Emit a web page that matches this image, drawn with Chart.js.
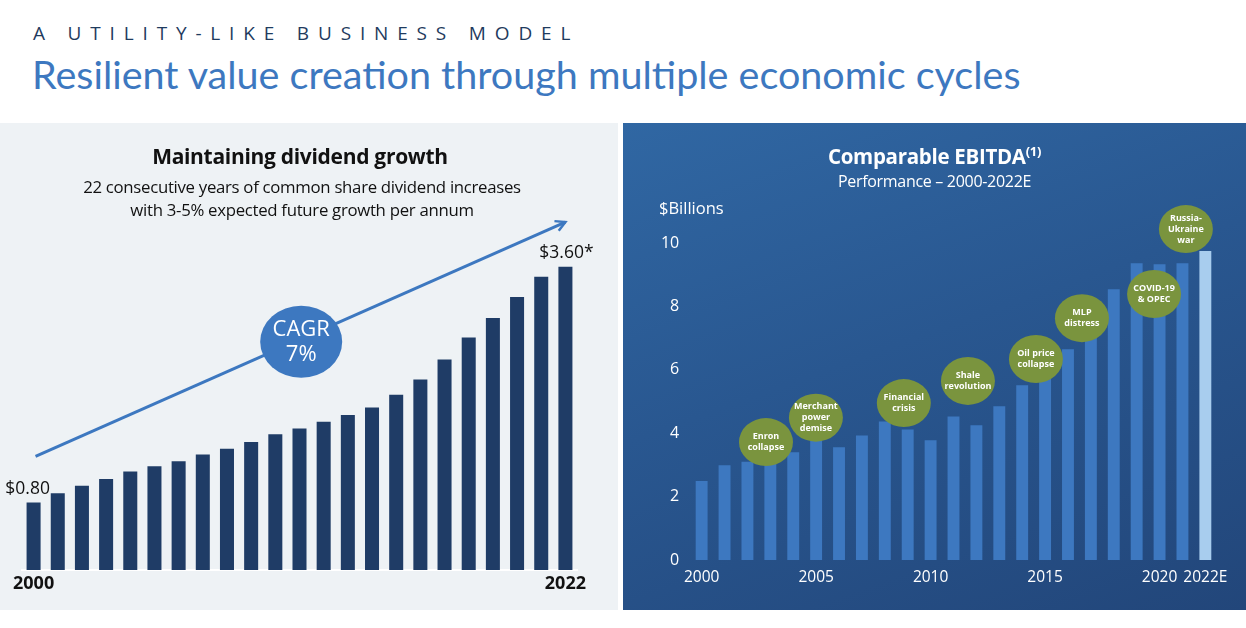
<!DOCTYPE html>
<html>
<head>
<meta charset="utf-8">
<script src="https://cdn.jsdelivr.net/npm/chart.js@4.4.0/dist/chart.umd.min.js"></script>
<style>
  body { margin: 0; background: #fff; }
  #page { position: relative; width: 1246px; height: 628px; overflow: hidden; background: #fff; font-family: 'Open Sans', sans-serif; }
  .kicker { position: absolute; left: 33px; top: 20px; font-size: 19px; letter-spacing: 0.465em; color: #1f3b5e; font-family: 'Open Sans', sans-serif; }
  .headline { position: absolute; left: 32px; top: 50px; font-size: 39.5px; color: #3d78c0; font-family: Lato, sans-serif; }
  .panel { position: absolute; top: 123px; height: 487px; overflow: hidden; }
  #left { left: 0; width: 618px; background: #eef2f5; }
  #right { left: 623px; width: 623px; background: linear-gradient(160deg, #3067a3 0%, #295790 45%, #22467a 100%); }
  .ptitle { position: absolute; left: 0; width: 100%; text-align: center; }
  canvas { position: absolute; left: 0; top: 0; }
</style>
</head>
<body>
<div id="page">
  <div class="kicker">A UTILITY-LIKE BUSINESS MODEL</div>
  <div class="headline">Resilient value creation through multiple economic cycles</div>

  <div class="panel" id="left">
    <canvas id="divChart" width="618" height="487"></canvas>
    <div class="ptitle" style="top:19px; width:600px; font-size:21px; font-weight:700; color:#111; letter-spacing:-0.3px;">Maintaining dividend growth</div>
    <div class="ptitle" style="top:52px; width:604px; font-size:16.8px; line-height:23px; color:#111; letter-spacing:-0.3px;">22 consecutive years of common share dividend increases<br>with 3-5% expected future growth per annum</div>
  </div>

  <div class="panel" id="right">
    <canvas id="ebitdaChart" width="623" height="487"></canvas>
    <div class="ptitle" style="top:19px; font-size:20.5px; font-weight:700; color:#fff; letter-spacing:-0.3px;">Comparable EBITDA<sup style="font-size:13px; font-weight:700;">(1)</sup></div>
    <div class="ptitle" style="top:47px; font-size:16px; color:#fff; letter-spacing:-0.3px;">Performance – 2000-2022E</div>
    <div style="position:absolute; left:36px; top:73px; font-size:16.5px; color:#fff;">$Billions</div>
  </div>
</div>

<script>
// dividend per share, 2000-2022
const divYears = ['2000', '2001', '2002', '2003', '2004', '2005', '2006', '2007', '2008', '2009', '2010', '2011',
                  '2012', '2013', '2014', '2015', '2016', '2017', '2018', '2019', '2020', '2021', '2022'];
const dividends = [0.80, 0.91, 1.00, 1.08, 1.17, 1.23, 1.29, 1.37, 1.44, 1.52, 1.61, 1.68,
                   1.76, 1.84, 1.93, 2.08, 2.26, 2.50, 2.76, 2.99, 3.24, 3.48, 3.60];
const divLabelFirst = '$0.80';
const divLabelLast = '$3.60*';
const cagrText = ['CAGR', '7%'];

// comparable EBITDA, $ billions
const ebitdaYears = ['2000', '2001', '2002', '2003', '2004', '2005', '2006', '2007', '2008', '2009', '2010', '2011',
                     '2012', '2013', '2014', '2015', '2016', '2017', '2018', '2019', '2020', '2021', '2022E'];
const ebitda = [2.49, 2.99, 3.10, 3.25, 3.40, 3.78, 3.56, 3.93, 4.37, 4.12, 3.78, 4.53,
                4.25, 4.85, 5.51, 5.80, 6.65, 7.60, 8.54, 9.36, 9.33, 9.36, 9.75];
const ebitdaTickYears = ['2000', '2005', '2010', '2015', '2020', '2022E'];
const yTicks = [0, 2, 4, 6, 8, 10];

// events shown as bubbles over the bars
const eventLabels = [
    ['Enron', 'collapse'],
    ['Merchant', 'power', 'demise'],
    ['Financial', 'crisis'],
    ['Shale', 'revolution'],
    ['Oil price', 'collapse'],
    ['MLP', 'distress'],
    ['COVID-19', '& OPEC'],
    ['Russia-', 'Ukraine', 'war']
];

Chart.defaults.font.family = "'Open Sans', sans-serif";

// bubble placement in (bar index, value) terms
const eventSpots = [
    [2.81, 3.72], [4.99, 4.49], [8.83, 4.95], [11.63, 5.65],
    [14.6, 6.34], [16.61, 7.63], [19.76, 8.39], [21.15, 10.44]
];

const dividendDecor = {
    id: 'dividendDecor',
    afterDatasetsDraw(chart) {
        const ctx = chart.ctx;
        const x = chart.scales.x, y = chart.scales.y;
        const bars = chart.getDatasetMeta(0).data;

        // end labels
        ctx.save();
        ctx.fillStyle = '#111';
        ctx.font = '17.5px "Open Sans", sans-serif';
        ctx.textAlign = 'center';
        ctx.textBaseline = 'bottom';
        ctx.fillText(divLabelFirst, bars[0].x - 6, bars[0].y - 5);
        const lastBar = bars[bars.length - 1];
        ctx.fillText(divLabelLast, lastBar.x + 1, lastBar.y - 5);

        // trend arrow
        const x0 = x.getPixelForValue(0.08), y0 = y.getPixelForValue(1.35);
        const x1 = x.getPixelForValue(22.0), y1 = y.getPixelForValue(4.13);
        ctx.strokeStyle = '#3d78c0';
        ctx.lineWidth = 3;
        ctx.beginPath();
        ctx.moveTo(x0, y0);
        ctx.lineTo(x1, y1);
        ctx.stroke();
        const ang = Math.atan2(y1 - y0, x1 - x0);
        ctx.lineWidth = 2.5;
        ctx.beginPath();
        ctx.moveTo(x1 - 11 * Math.cos(ang - 0.5), y1 - 11 * Math.sin(ang - 0.5));
        ctx.lineTo(x1, y1);
        ctx.lineTo(x1 - 11 * Math.cos(ang + 0.5), y1 - 11 * Math.sin(ang + 0.5));
        ctx.stroke();

        // CAGR bubble
        const cx = x.getPixelForValue(11.07), cy = y.getPixelForValue(2.71);
        ctx.fillStyle = '#3d78c0';
        ctx.beginPath();
        ctx.ellipse(cx, cy, 41, 36, 0, 0, Math.PI * 2);
        ctx.fill();
        ctx.fillStyle = '#fff';
        ctx.font = '22px "Open Sans", sans-serif';
        ctx.textBaseline = 'middle';
        ctx.fillText(cagrText[0], cx, cy - 12);
        ctx.fillText(cagrText[1], cx, cy + 13);
        ctx.restore();
    }
};

const eventBubbles = {
    id: 'eventBubbles',
    afterDatasetsDraw(chart) {
        const ctx = chart.ctx;
        const x = chart.scales.x, y = chart.scales.y;
        ctx.save();
        eventLabels.forEach((lines, k) => {
            const cx = x.getPixelForValue(eventSpots[k][0]);
            const cy = y.getPixelForValue(eventSpots[k][1]);
            ctx.fillStyle = '#7a943e';
            ctx.beginPath();
            ctx.ellipse(cx, cy, 27, 24, 0, 0, Math.PI * 2);
            ctx.fill();
            ctx.fillStyle = '#fff';
            ctx.font = 'bold 9px "Open Sans", sans-serif';
            ctx.textAlign = 'center';
            ctx.textBaseline = 'middle';
            const lh = 11;
            lines.forEach((t, j) => {
                ctx.fillText(t, cx, cy + (j - (lines.length - 1) / 2) * lh);
            });
        });
        ctx.restore();
    }
};

new Chart(document.getElementById('divChart'), {
    type: 'bar',
    data: {
        labels: divYears,
        datasets: [{
            data: dividends,
            backgroundColor: '#1f3c66',
            categoryPercentage: 1,
            barPercentage: 0.58
        }]
    },
    options: {
        responsive: false,
        animation: false,
        layout: { padding: { left: 21.5, right: 40.5, top: 110, bottom: 10 } },
        plugins: { legend: { display: false }, tooltip: { enabled: false } },
        scales: {
            x: {
                grid: { display: false, drawTicks: false },
                border: { display: true, color: '#ffffff', width: 2 },
                afterFit: s => { s.height = 30; },
                ticks: {
                    autoSkip: false,
                    maxRotation: 0,
                    padding: 3,
                    color: '#111',
                    font: { size: 18, weight: 'bold' },
                    callback: (v, i) => (i === 0 || i === divYears.length - 1) ? divYears[i] : ''
                }
            },
            y: { display: false, min: 0, max: 4 }
        }
    },
    plugins: [dividendDecor]
});

new Chart(document.getElementById('ebitdaChart'), {
    type: 'bar',
    data: {
        labels: ebitdaYears,
        datasets: [{
            data: ebitda,
            backgroundColor: ebitdaYears.map(yr => yr.endsWith('E') ? '#a8cdee' : '#3d78c0'),
            categoryPercentage: 1,
            barPercentage: 0.52
        }]
    },
    options: {
        responsive: false,
        animation: false,
        layout: { padding: { left: 0, right: 29.2, top: 120, bottom: 20 } },
        plugins: { legend: { display: false }, tooltip: { enabled: false } },
        scales: {
            x: {
                grid: { display: false, drawTicks: false },
                border: { display: false },
                afterFit: s => { s.height = 30; },
                ticks: {
                    autoSkip: false,
                    maxRotation: 0,
                    padding: 8,
                    color: '#fff',
                    font: { size: 15.5 },
                    callback: (v, i) => ebitdaTickYears.includes(ebitdaYears[i]) ? ebitdaYears[i] : ''
                }
            },
            y: {
                min: 0,
                max: 10,
                grid: { display: false, drawTicks: false },
                border: { display: false },
                afterFit: s => { s.width = 67.2; },
                afterBuildTicks: s => { s.ticks = yTicks.map(v => ({ value: v })); },
                ticks: { padding: 11, color: '#fff', font: { size: 16 } }
            }
        }
    },
    plugins: [eventBubbles]
});
</script>
</body>
</html>
